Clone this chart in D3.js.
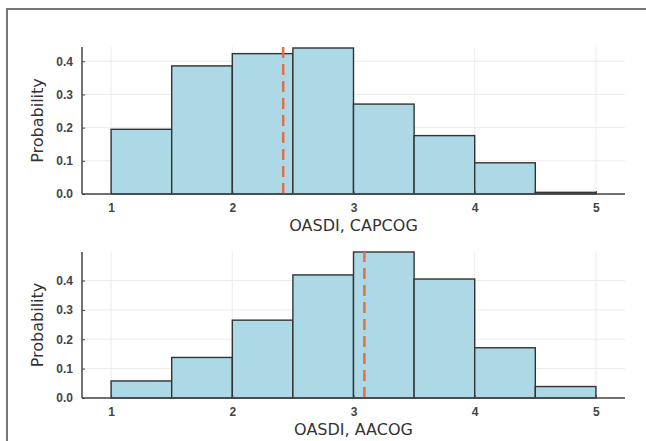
<!DOCTYPE html>
<html>
<head>
<meta charset="utf-8">
<script src="https://cdn.jsdelivr.net/npm/d3@7"></script>
<style>
  body { margin: 0; background: #fff; }
  svg { font-family: "Open Sans", sans-serif; }
</style>
</head>
<body>
<div id="chart"></div>
<script>
// bin edges shared by both histograms
const binEdges = [1, 1.5, 2, 2.5, 3, 3.5, 4, 4.5, 5];
const capcogProb = [0.195, 0.386, 0.423, 0.440, 0.271, 0.176, 0.094, 0.005];
const aacogProb = [0.058, 0.138, 0.265, 0.419, 0.497, 0.405, 0.171, 0.039];
const capcogMean = 2.42;
const aacogMean = 3.09;
const xTicks = [1, 2, 3, 4, 5];
const yTicks = [0, 0.1, 0.2, 0.3, 0.4];

const width = 646, height = 441;
const svg = d3.select('#chart').append('svg').attr('width', width).attr('height', height);

// outer frame (only top and left edges visible)
svg.append('path')
  .attr('d', `M7,${height} L7,9 L${width},9`)
  .attr('fill', 'none').attr('stroke', '#777').attr('stroke-width', 2);

const panels = [
  { probs: capcogProb, mean: capcogMean, label: 'OASDI, CAPCOG', top: 47, bottom: 194, yMax: 0.443 },
  { probs: aacogProb, mean: aacogMean, label: 'OASDI, AACOG', top: 252, bottom: 398, yMax: 0.497 }
];

const left = 82, right = 625;

panels.forEach(p => {
  const x = d3.scaleLinear().domain([0.76, 5.24]).range([left, right]);
  const y = d3.scaleLinear().domain([0, p.yMax]).range([p.bottom, p.top]);
  const g = svg.append('g');

  // grid
  g.selectAll('.vgrid').data(xTicks).enter().append('line')
    .attr('x1', d => x(d)).attr('x2', d => x(d))
    .attr('y1', p.top).attr('y2', p.bottom)
    .attr('stroke', '#ebebeb').attr('stroke-width', 1);
  g.selectAll('.hgrid').data(yTicks).enter().append('line')
    .attr('x1', left).attr('x2', right)
    .attr('y1', d => y(d)).attr('y2', d => y(d))
    .attr('stroke', '#ebebeb').attr('stroke-width', 1);

  // bars
  const bins = p.probs.map((v, i) => ({ x0: binEdges[i], x1: binEdges[i + 1], v: v }));
  g.selectAll('rect').data(bins).enter().append('rect')
    .attr('x', d => x(d.x0))
    .attr('y', d => y(d.v))
    .attr('width', d => x(d.x1) - x(d.x0))
    .attr('height', d => y(0) - y(d.v))
    .attr('fill', '#add8e6')
    .attr('stroke', '#333')
    .attr('stroke-width', 1.4);

  // mean line
  g.append('line')
    .attr('x1', x(p.mean)).attr('x2', x(p.mean))
    .attr('y1', y(0)).attr('y2', p.top)
    .attr('stroke', '#e26f46').attr('stroke-width', 2.5)
    .attr('stroke-dasharray', '11,6');

  // axes
  const xAxis = d3.axisBottom(x).tickValues(xTicks).tickFormat(d3.format('d')).tickSize(-3).tickPadding(9);
  const gx = g.append('g').attr('transform', `translate(0,${p.bottom})`).call(xAxis);
  const yAxis = d3.axisLeft(y).tickValues(yTicks).tickFormat(d3.format('.1f')).tickSize(-3).tickPadding(9);
  const gy = g.append('g').attr('transform', `translate(${left},0)`).call(yAxis);

  [gx, gy].forEach(a => {
    a.select('.domain').attr('stroke', '#444').attr('stroke-width', 1.5)
      .attr('d', a === gx ? `M${left},0H${right}` : `M0,${p.bottom}V${p.top}`);
    a.selectAll('.tick line').attr('stroke', '#444');
    a.selectAll('.tick text').attr('fill', '#444').style('font-size', '12px').style('font-weight', '600');
  });

  // labels
  svg.append('text')
    .attr('x', (left + right) / 2 + 0).attr('y', p.bottom + 37)
    .attr('text-anchor', 'middle').attr('fill', '#333')
    .style('font-family', '"DejaVu Sans", sans-serif')
    .style('font-size', '16px')
    .text(p.label);
  svg.append('text')
    .attr('transform', `translate(43,${(p.top + p.bottom) / 2}) rotate(-90)`)
    .attr('text-anchor', 'middle').attr('fill', '#333')
    .style('font-family', '"DejaVu Sans", sans-serif')
    .style('font-size', '16px')
    .text('Probability');
});
</script>
</body>
</html>
